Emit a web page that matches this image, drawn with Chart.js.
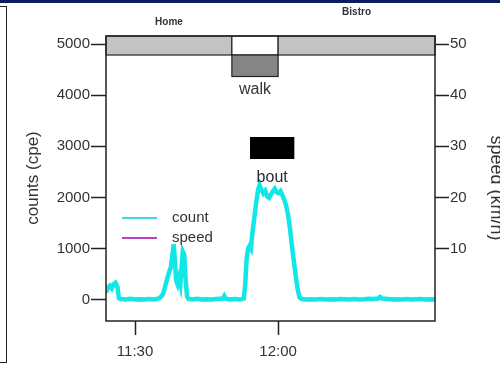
<!DOCTYPE html>
<html>
<head>
<meta charset="utf-8">
<script src="https://cdn.jsdelivr.net/npm/chart.js@4.4.1/dist/chart.umd.min.js"></script>
<style>
  html, body { margin: 0; padding: 0; background: #fff; }
  #wrap { position: relative; width: 500px; height: 365px; overflow: hidden; }
  #topbar { position: absolute; left: 0; top: 0; width: 500px; height: 3px; background: #0b1d5e; }
  #sidepanel { position: absolute; left: -2px; top: 6px; width: 8px; height: 355px;
               border: 1.5px solid #222; border-left: none; }
  canvas { position: absolute; left: 0; top: 0; }
</style>
</head>
<body>
<div id="wrap">
  <canvas id="c" width="500" height="365"></canvas>
  <div id="topbar"></div>
  <div id="sidepanel"></div>
</div>
<script>
// Time in minutes after 11:00, and activity counts (cpe) per epoch
const minutes = [
  23.9, 24.3, 24.7, 25.1, 25.5, 25.9, 26.3, 26.6, 27.0, 28.0, 29.0, 30.0, 31.0, 32.0, 33.0, 34.0,
  35.0, 35.5, 35.9, 36.3, 36.7, 37.1, 37.5, 37.8, 38.1, 38.4, 38.6, 38.9, 39.2, 39.5, 39.8, 40.0,
  40.3, 40.6, 40.9, 41.2, 42.0, 43.0, 44.0, 45.0, 46.0, 47.0, 48.4, 48.7, 49.0, 50.0, 51.0, 52.0,
  52.8, 53.1, 53.4, 53.7, 54.0, 54.3, 54.6, 55.0, 55.4, 55.8, 56.1, 56.5, 56.9, 57.3, 57.7, 58.1,
  58.5, 58.9, 59.3, 59.7, 60.1, 60.5, 60.9, 61.3, 61.7, 62.1, 62.5, 62.9, 63.3, 63.7, 64.1, 64.5,
  65.0, 66.0, 67.0, 68.0, 69.0, 70.0, 71.0, 72.0, 73.0, 74.0, 75.0, 76.0, 77.0, 78.0, 79.0, 80.0,
  81.0, 81.4, 81.8, 83.0, 84.0, 85.0, 86.0, 87.0, 88.0, 89.0, 90.0, 91.0, 92.0, 92.9
];
const counts = [
  140, 230, 270, 220, 300, 330, 250, 30, 10, 0, 15, 0, 5, 0, 10, 0,
  20, 60, 120, 250, 400, 520, 640, 850, 1080, 700, 380, 300, 420, 300, 700, 940,
  880, 400, 60, 10, 0, 15, 0, 5, 0, 10, 20, 70, 15, 0, 10, 0,
  20, 300, 800, 1000, 1050, 1000, 1300, 1600, 1900, 2150, 2240, 2150, 2080, 2130, 2020, 1990,
  2060, 2120, 2170, 2100, 2080, 2120, 2040, 1950, 1830, 1650, 1380, 1050, 750, 450, 200, 40,
  10, 0, 5, 0, 10, 0, 5, 0, 10, 5, 0, 10, 0, 5, 15, 10,
  20, 50, 20, 10, 0, 5, 0, 10, 0, 5, 10, 0, 5, 0
];
// Speed (km/h) is not recorded in this window
const speeds = [];

// Location / trip segments (minutes after 11:00)
const segLabels = ['Home', 'walk', 'Bistro'];
const segKinds  = ['place', 'trip', 'place'];
const segStart  = [23.9, 50.3, 60.0];
const segEnd    = [50.3, 60.0, 92.9];

// Detected activity bout
const boutLabel = 'bout';
const boutStart = 54.1;
const boutEnd   = 63.4;

// Axis ticks
const countTicks = [0, 1000, 2000, 3000, 4000, 5000];
const speedTicks = [10, 20, 30, 40, 50];
const timeTicks  = [30, 60];

const FONT = "'Liberation Sans', Arial, sans-serif";
const TXT = '#333';

function clock(m) {
  const h = 11 + Math.floor(m / 60);
  const mm = Math.round(m % 60);
  return h + ':' + String(mm).padStart(2, '0');
}

const decor = {
  id: 'decor',
  beforeDatasetsDraw(chart) {
    const { ctx, chartArea: a, scales } = chart;
    const x = scales.x;
    ctx.save();
    // location band along the top
    const bandTop = a.top, bandBot = a.top + 19;
    segLabels.forEach((lab, i) => {
      const x0 = x.getPixelForValue(segStart[i]);
      const x1 = x.getPixelForValue(segEnd[i]);
      ctx.lineWidth = 1.2;
      ctx.strokeStyle = '#222';
      ctx.fillStyle = segKinds[i] === 'place' ? '#c3c3c3' : '#ffffff';
      ctx.fillRect(x0, bandTop, x1 - x0, bandBot - bandTop);
      ctx.strokeRect(x0, bandTop, x1 - x0, bandBot - bandTop);
      if (segKinds[i] === 'trip') {
        ctx.fillStyle = '#858585';
        ctx.fillRect(x0, bandBot, x1 - x0, 21.5);
        ctx.strokeRect(x0, bandBot, x1 - x0, 21.5);
      }
    });
    // bout marker
    const b0 = x.getPixelForValue(boutStart), b1 = x.getPixelForValue(boutEnd);
    ctx.fillStyle = '#000';
    ctx.fillRect(b0, a.top + 101, b1 - b0, 22);
    ctx.restore();
  },
  afterDatasetsDraw(chart) {
    const { ctx, chartArea: a, scales } = chart;
    const x = scales.x;
    ctx.save();
    // frame
    ctx.strokeStyle = '#222';
    ctx.lineWidth = 1.5;
    ctx.strokeRect(a.left, a.top, a.right - a.left, a.bottom - a.top);

    // segment labels
    ctx.textAlign = 'center';
    ctx.textBaseline = 'middle';
    let placeIdx = 0;
    segLabels.forEach((lab, i) => {
      const xc = (x.getPixelForValue(segStart[i]) + x.getPixelForValue(segEnd[i])) / 2;
      if (segKinds[i] === 'place') {
        ctx.font = 'bold 10px ' + FONT;
        ctx.fillStyle = '#333';
        ctx.fillText(lab, xc, placeIdx % 2 === 0 ? 22 : 12);
        placeIdx++;
      } else {
        ctx.font = '16px ' + FONT;
        ctx.fillStyle = '#333';
        ctx.fillText(lab, xc, a.top + 54);
      }
    });
    const bc = (x.getPixelForValue(boutStart) + x.getPixelForValue(boutEnd)) / 2;
    ctx.font = '16px ' + FONT;
    ctx.fillStyle = '#2a2a3a';
    ctx.fillText(boutLabel, bc, a.top + 142);

    // legend
    const ds = chart.data.datasets;
    ds.forEach((d, i) => {
      const yy = 218 + i * 20;
      ctx.strokeStyle = d.legendColor;
      ctx.lineWidth = 1.8;
      ctx.beginPath();
      ctx.moveTo(122, yy);
      ctx.lineTo(157, yy);
      ctx.stroke();
      ctx.fillStyle = '#333';
      ctx.font = '15px ' + FONT;
      ctx.textAlign = 'left';
      ctx.fillText(d.label, 172, yy);
    });

    // axis titles
    ctx.fillStyle = '#333';
    ctx.textAlign = 'center';
    ctx.textBaseline = 'middle';
    ctx.font = '17px ' + FONT;
    ctx.save();
    ctx.translate(33, 178);
    ctx.rotate(-Math.PI / 2);
    ctx.fillText('counts (cpe)', 0, 0);
    ctx.restore();
    ctx.save();
    ctx.translate(496, 188);
    ctx.rotate(Math.PI / 2);
    ctx.font = '18px ' + FONT;
    ctx.fillText('speed (km/h)', 0, 0);
    ctx.restore();
    ctx.restore();
  }
};

const tickFont = { family: FONT, size: 15 };

new Chart(document.getElementById('c'), {
  type: 'line',
  data: {
    datasets: [
      {
        label: 'count',
        data: minutes.map((m, i) => ({ x: m, y: counts[i] })),
        borderColor: '#12e6e6',
        legendColor: '#3ed9dc',
        borderWidth: 4.5,
        pointRadius: 0,
        tension: 0,
        yAxisID: 'y'
      },
      {
        label: 'speed',
        data: speeds,
        borderColor: '#c03cc0',
        legendColor: '#c03cc0',
        borderWidth: 1.5,
        pointRadius: 0,
        yAxisID: 'y2'
      }
    ]
  },
  options: {
    responsive: false,
    animation: false,
    events: [],
    layout: { padding: { top: 36, left: 0, right: 0, bottom: 0 } },
    plugins: { legend: { display: false }, tooltip: { enabled: false } },
    scales: {
      x: {
        type: 'linear',
        min: 23.9, max: 92.9,
        afterBuildTicks: s => { s.ticks = timeTicks.map(v => ({ value: v })); },
        afterFit: s => { s.height = 44; },
        ticks: { callback: v => clock(v), font: tickFont, color: TXT, padding: 8, maxRotation: 0 },
        grid: { drawOnChartArea: false, tickLength: 14, tickColor: '#222', tickWidth: 1.5 },
        border: { display: false }
      },
      y: {
        position: 'left',
        min: -420, max: 5160,
        afterBuildTicks: s => { s.ticks = countTicks.map(v => ({ value: v })); },
        afterFit: s => { s.width = 106; },
        ticks: { callback: v => String(v), font: tickFont, color: TXT, padding: 1 },
        grid: { drawOnChartArea: false, tickLength: 15, tickColor: '#222', tickWidth: 1.5 },
        border: { display: false }
      },
      y2: {
        position: 'right',
        min: -4.2, max: 51.6,
        afterBuildTicks: s => { s.ticks = speedTicks.map(v => ({ value: v })); },
        afterFit: s => { s.width = 65; },
        ticks: { callback: v => String(v), font: tickFont, color: TXT, padding: 1 },
        grid: { drawOnChartArea: false, tickLength: 14, tickColor: '#222', tickWidth: 1.5 },
        border: { display: false }
      }
    }
  },
  plugins: [decor]
});
</script>
</body>
</html>
